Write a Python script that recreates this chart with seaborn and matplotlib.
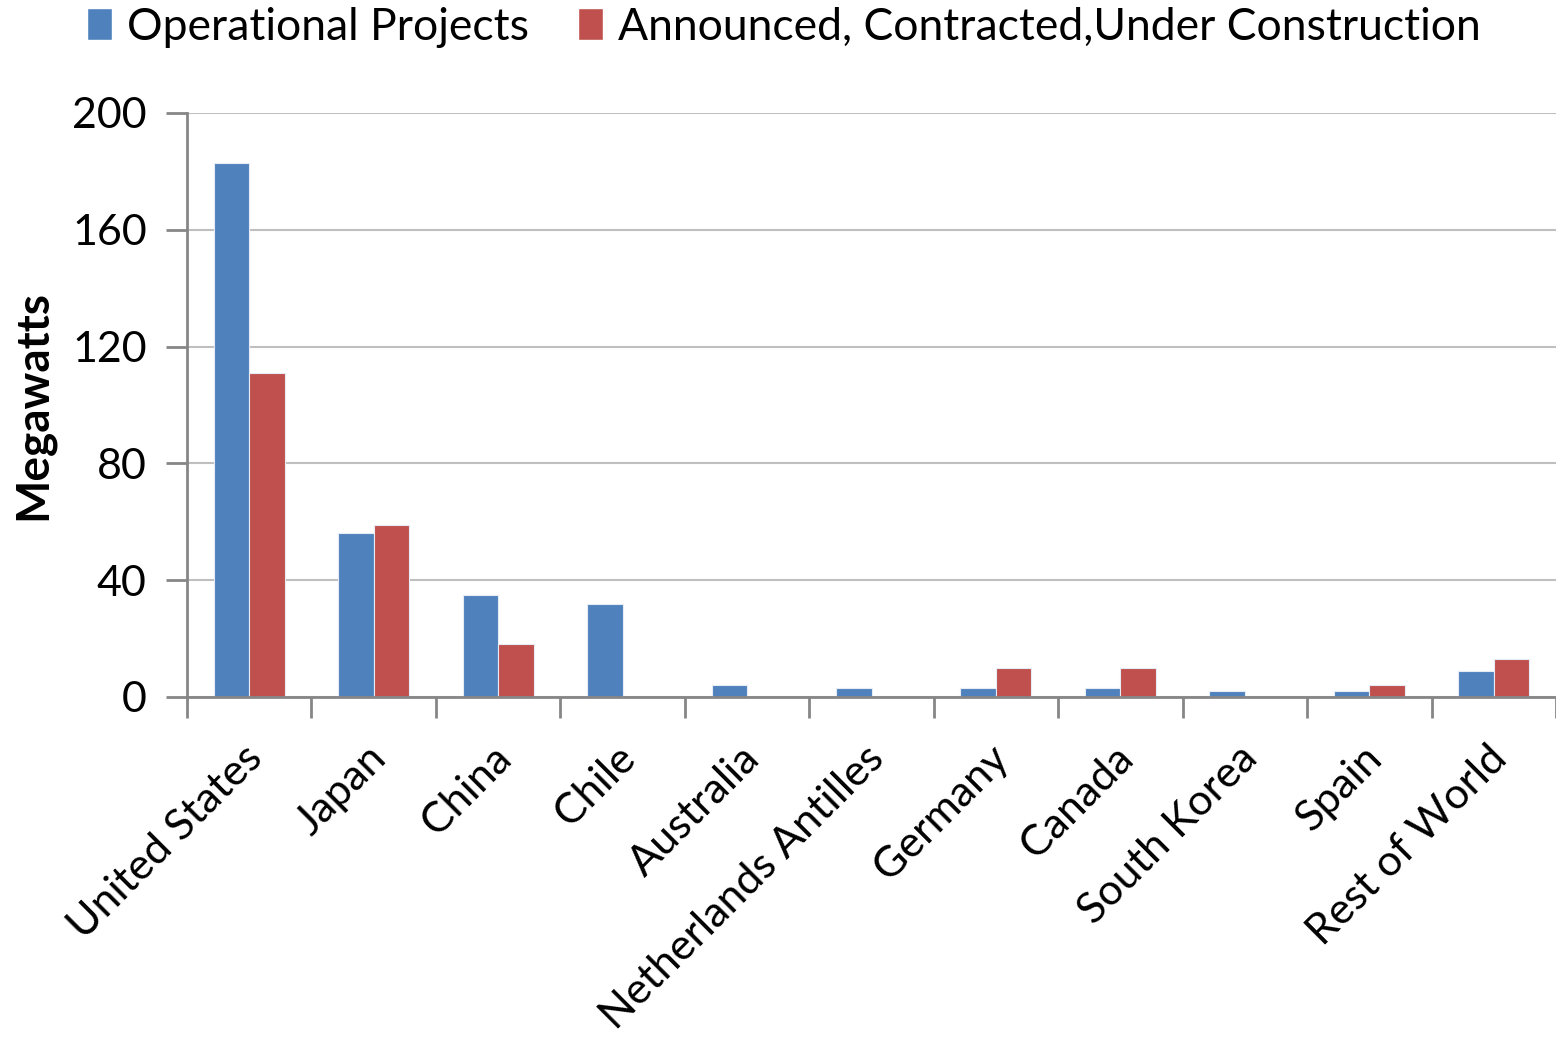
import pandas as pd
import numpy as np
import seaborn as sns
import matplotlib.pyplot as plt
import matplotlib.transforms as mtransforms
from matplotlib.patches import Patch

# --- data ---
countries = ["United States", "Japan", "China", "Chile", "Australia",
             "Netherlands Antilles", "Germany", "Canada", "South Korea",
             "Spain", "Rest of World"]
operational = [183, 56, 35, 32, 4, 3, 3, 3, 2, 2, 9]
announced = [111, 59, 18, 0, 0, 0, 10, 10, 0, 4, 13]
series_names = ["Operational Projects", "Announced, Contracted,Under Construction"]
y_ticks = [0, 40, 80, 120, 160, 200]

blue = "#4F81BD"
red = "#C0504D"

df = pd.DataFrame({
    "country": countries * 2,
    "series": [series_names[0]] * len(countries) + [series_names[1]] * len(countries),
    "mw": operational + announced,
})

sns.set_theme(style="white")
plt.rcParams["font.family"] = ["Lato", "DejaVu Sans"]
plt.rcParams["text.color"] = "black"
plt.rcParams["xtick.color"] = "black"
plt.rcParams["ytick.color"] = "black"
plt.rcParams["axes.labelcolor"] = "black"

fig = plt.figure(figsize=(15.56, 10.41), dpi=100)
ax = fig.add_axes([187 / 1556, 1 - 697 / 1041, 1 - 187 / 1556, (697 - 113) / 1041])

sns.barplot(data=df, x="country", y="mw", hue="series", order=countries,
            hue_order=series_names, palette=[blue, red], saturation=1,
            width=0.57, edgecolor="#E6ECF5", linewidth=0.8, ax=ax, legend=False)

ax.set_ylim(0, 200)
ax.set_xlim(-0.5, len(countries) - 0.5)
ax.set_yticks(y_ticks)
ax.yaxis.grid(True, color="#BFBFBF", linewidth=1.5)
ax.set_axisbelow(True)

for side in ["top", "right"]:
    ax.spines[side].set_visible(False)
for side in ["left", "bottom"]:
    ax.spines[side].set_color("#868686")
    ax.spines[side].set_linewidth(2)

ax.tick_params(axis="y", which="major", length=15, width=2, color="#868686",
               labelsize=31, pad=14, left=True)
ax.tick_params(axis="x", which="major", length=0, labelsize=31, pad=30)
ax.set_xticks(np.arange(-0.5, len(countries)), minor=True)
ax.tick_params(axis="x", which="minor", length=15, width=2, color="#868686",
               bottom=True)
ax.set_xticks(range(len(countries)))
ax.set_xticklabels(countries, rotation=45, ha="right", rotation_mode="anchor")

# nudge the slanted labels a little to the left
shift = mtransforms.ScaledTranslation(-7 / 100, 0, fig.dpi_scale_trans)
for lbl in ax.get_xticklabels():
    lbl.set_transform(lbl.get_transform() + shift)

ax.set_xlabel("")
ax.set_ylabel("Megawatts", fontsize=33, fontweight="bold", labelpad=13)

handles = [Patch(facecolor=blue, label=series_names[0]),
           Patch(facecolor=red, label=series_names[1])]
fig.legend(handles=handles, loc="center", bbox_to_anchor=(0.504, 1 - 27 / 1041),
           ncol=2, frameon=False, fontsize=32, handlelength=0.55, handleheight=0.7,
           handletextpad=0.35, columnspacing=1.1)

fig.savefig("out.png", dpi=100)
